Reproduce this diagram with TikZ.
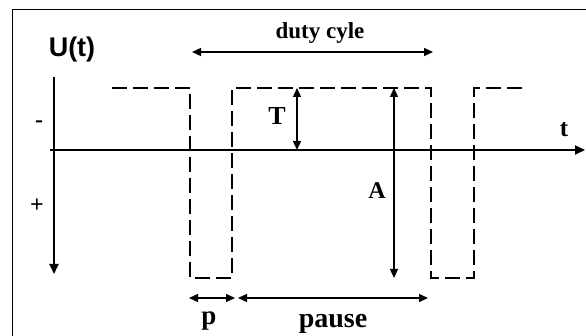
\documentclass[tikz,border=0pt]{standalone}
\usepackage{fontspec}
\setmainfont{Liberation Serif}
\setsansfont{Liberation Sans}
\usetikzlibrary{arrows.meta}
\begin{document}
\begin{tikzpicture}[x=1pt,y=-1pt,
  axis/.style={line width=1.8pt,-{Triangle[width=9pt,length=10pt]}},
  sig/.style={line width=1.8pt,dash pattern=on 15pt off 6pt},
  dim/.style={line width=1.4pt,{Triangle[width=8pt,length=9pt]}-{Triangle[width=8pt,length=9pt]}},
  lbl/.style={inner sep=0pt,anchor=base}]
\useasboundingbox (0,0) rectangle (586,336);
\fill[white] (0,0) rectangle (586,336);
% frame
\draw[line width=1pt] (12,336) -- (12,10) -- (586,10);
% axes
\coordinate (vtop) at (54,77);
\coordinate (vbot) at (54,274);
\coordinate (hl) at (50,150);
\coordinate (hr) at (585,150);
\draw[axis] (vtop) -- (vbot);
\draw[axis] (hl) -- (hr);
\node[lbl,font=\sffamily\bfseries\fontsize{27}{27}\selectfont] (U) at (72,57) {U(t)};
\node[lbl,font=\bfseries\fontsize{24}{24}\selectfont] (minus) at (39,128) {-};
\node[lbl,font=\bfseries\fontsize{24}{24}\selectfont] (plus) at (37,213) {+};
\node[lbl,font=\bfseries\fontsize{25}{25}\selectfont] (t) at (564,137) {t};
% signal
\coordinate (s0) at (112,88);
\coordinate (s1) at (190,88);
\coordinate (s2) at (190,278);
\coordinate (s3) at (232,278);
\coordinate (s4) at (232,88);
\coordinate (s5) at (431,88);
\coordinate (s6) at (431,278);
\coordinate (s7) at (474,278);
\coordinate (s8) at (474,88);
\coordinate (s9) at (526,88);
\draw[sig] (s0) -- (s1) -- (s2) -- (s3) -- (s4) -- (s5) -- (s6) -- (s7) -- (s8) -- (s9);
% duty cycle
\coordinate (d1) at (192,52);
\coordinate (d2) at (433,52);
\draw[dim] (d1) -- (d2);
\node[lbl,font=\bfseries\fontsize{23}{23}\selectfont] (dc) at (320,39) {duty cyle};
% T
\coordinate (T1) at (297,88);
\coordinate (T2) at (297,150);
\draw[dim] (T1) -- (T2);
\node[lbl,font=\bfseries\fontsize{26}{26}\selectfont] (Tl) at (277,125) {T};
% A
\coordinate (A1) at (394,88);
\coordinate (A2) at (394,278);
\draw[dim] (A1) -- (A2);
\node[lbl,font=\bfseries\fontsize{24}{24}\selectfont] (Al) at (377,199) {A};
% p
\coordinate (p1) at (189,298);
\coordinate (p2) at (235,298);
\draw[dim] (p1) -- (p2);
\node[lbl,font=\bfseries\fontsize{27}{27}\selectfont] (pl) at (209,325) {p};
% pause
\coordinate (q1) at (238,298);
\coordinate (q2) at (428,298);
\draw[dim] (q1) -- (q2);
\node[lbl,font=\bfseries\fontsize{28}{28}\selectfont] (ql) at (333,327) {pause};
\end{tikzpicture}
\end{document}
